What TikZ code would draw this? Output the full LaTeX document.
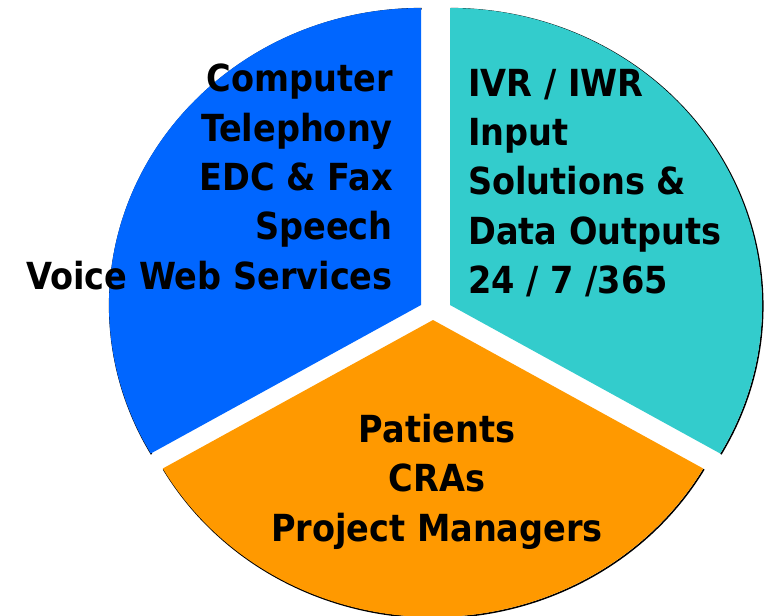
\documentclass[tikz,border=0pt]{standalone}
\usepackage{fontspec}
\setmainfont{DejaVu Sans Condensed}
\usetikzlibrary{positioning}
\definecolor{pieblue}{HTML}{0066FF}
\definecolor{pieteal}{HTML}{33CCCC}
\definecolor{pieorange}{HTML}{FF9900}
\tikzset{
  rim/.style={black, line width=1.6pt},
  label/.style={font=\bfseries\fontsize{37.3}{49.3}\selectfont, inner sep=0pt, text=black}
}
\begin{document}
\begin{tikzpicture}[x=1pt,y=1pt]
    \useasboundingbox (0,0) rectangle (766,-616);
    % sector tips
    \coordinate (blue) at (421,-305);
    \coordinate (teal) at (450,-305);
    \coordinate (orange) at (433,-320);
    % outer rims, slightly shifted
    \foreach \c/\a in {blue/90, teal/-30, orange/210}
        \draw[rim] ([shift={(0.7,-0.7)}]\c) ++(\a:312pt and 297pt) arc[start angle=\a, delta angle=120, x radius=312pt, y radius=297pt];
    \fill[pieblue] (blue) -- ++(90:312pt and 297pt) arc[start angle=90, end angle=210, x radius=312pt, y radius=297pt] -- cycle;
    \fill[pieteal] (teal) -- ++(-30:312pt and 297pt) arc[start angle=-30, end angle=90, x radius=312pt, y radius=297pt] -- cycle;
    \fill[pieorange] (orange) -- ++(210:312pt and 297pt) arc[start angle=210, end angle=330, x radius=312pt, y radius=297pt] -- cycle;
    % texts
    \node[label, align=right, anchor=north east] (left) at (393,-64) {Computer\\Telephony\\EDC \& Fax\\Speech\\Voice Web Services};
    \node[label, align=left, anchor=north west] (right) at (468,-69) {IVR / IWR\\Input\\Solutions \&\\Data Outputs\\24 / 7 /365};
    \node[label, align=center, anchor=north] (bottom) at (437,-414) {Patients\\CRAs\\Project Managers};
\end{tikzpicture}
\end{document}
